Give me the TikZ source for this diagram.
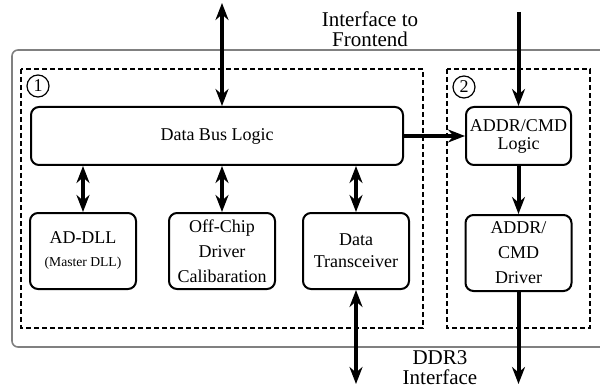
\documentclass[tikz,border=0pt]{standalone}
\usepackage{fontspec}
\setmainfont{Liberation Serif}
\usetikzlibrary{arrows.meta,positioning}
\tikzset{
    %Define standard arrow tip
    >={Stealth[length=8.5pt,width=6.5pt]},
    %Define style for blocks
    blok/.style={
           rectangle,
           rounded corners=4pt,
           draw=black, line width=1pt,
           minimum width=53pt,
           minimum height=38pt,
           inner sep=1pt,
           font=\fontsize{9}{12.5}\selectfont,
           align=center},
    %Define style for dashed groups
    groep/.style={
           draw=black, line width=0.8pt,
           dash pattern=on 2.5pt off 1.5pt},
    %Define style for the numbers
    nummer/.style={
           circle,
           draw=black, line width=0.6pt,
           minimum size=11pt,
           inner sep=0pt,
           font=\fontsize{9}{9}\selectfont},
    %Define style for outside texts
    opschrift/.style={
           align=center,
           inner sep=0pt,
           font=\fontsize{10.5}{10}\selectfont},
    % Define arrow styles
    pijl/.style={->, line width=2pt},
    dpijl/.style={<->, line width=2pt}
}
\begin{document}
\begin{tikzpicture}[x=0.5pt,y=-0.5pt,node distance=24pt]
\clip (0,0) rectangle (600,390);

 %frame and groups
\draw[gray, line width=0.8pt, rounded corners=3pt] (12,50) rectangle (612,347);
\draw[groep] (21,69) rectangle (423,328);
\draw[groep] (447,69) rectangle (590,328);
\node[nummer] (n1) at (38,86) {1};
\node[nummer] (n2) at (464,87) {2};

 %blocks
\node[blok, minimum width=186pt, minimum height=29pt] (dbl) at (217,136) {Data Bus Logic};
\node[blok, minimum width=52.5pt, minimum height=29pt, font=\fontsize{9}{9}\selectfont] (acl) at (518.5,136) {ADDR/CMD\\Logic};
\node[blok] (adll) at (83,251) {AD-DLL\\[-1pt]{\fontsize{6.8}{8}\selectfont(Master DLL)}};
\node[blok] (ocd) at (222,251) {Off-Chip\\Driver\\Calibaration};
\node[blok, font=\fontsize{9}{11}\selectfont] (dt) at (356,251) {Data\\Transceiver};
\node[blok, below=of acl] (acd) {ADDR/\\CMD\\Driver};

 %outside
\node[opschrift] (fe) at (370,29) {Interface to\\Frontend};
\node[opschrift] (ddr) at (440,368) {DDR3\\Interface};
\coordinate (top1) at (222,3);
\coordinate (top2) at (518.5,12);
\coordinate (bot1) at (356,384);
\coordinate (bot2) at (518.5,384);

 %arrows
\draw[dpijl] (top1) -- (top1 |- dbl.north);
\draw[pijl] (top2) -- (acl.north);
\draw[pijl] (dbl.east) -- (acl.west);
\draw[dpijl] (adll.north |- dbl.south) -- (adll.north);
\draw[dpijl] (ocd.north |- dbl.south) -- (ocd.north);
\draw[dpijl] (dt.north |- dbl.south) -- (dt.north);
\draw[pijl] (acl.south) -- (acd.north);
\draw[dpijl] (dt.south) -- (bot1);
\draw[pijl] (acd.south) -- (bot2);

\end{tikzpicture}
\end{document}
